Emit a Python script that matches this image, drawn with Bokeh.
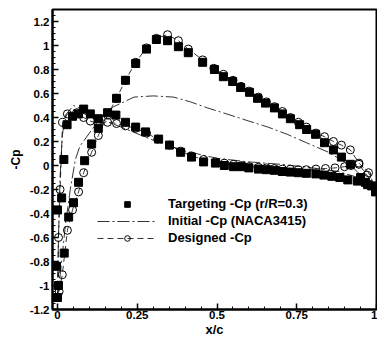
from bokeh.plotting import figure
from bokeh.models import FixedTicker, CustomJSTickFormatter, Legend, LegendItem, Range1d
from bokeh.embed import file_html
from bokeh.resources import INLINE

# Targeting -Cp (r/R=0.3), branch A (suction peak ~1.05)
tA_x = [0.003, 0.021, 0.035, 0.05, 0.066, 0.085, 0.107, 0.128, 0.157, 0.185, 0.213, 0.245,
        0.279, 0.310, 0.345, 0.379, 0.41, 0.455, 0.492, 0.52, 0.549, 0.574, 0.602, 0.627,
        0.652, 0.680, 0.705, 0.730, 0.759, 0.781, 0.809, 0.837, 0.865, 0.890, 0.918, 0.95,
        0.972, 0.997]
tA_y = [-1.0, -0.73, -0.43, -0.31, -0.14, 0.04, 0.18, 0.31, 0.44, 0.56, 0.71, 0.85,
        0.97, 1.05, 1.04, 0.99, 0.94, 0.86, 0.80, 0.74, 0.70, 0.65, 0.61, 0.56,
        0.52, 0.48, 0.43, 0.39, 0.34, 0.30, 0.26, 0.19, 0.13, 0.07, 0.01, -0.10,
        -0.16, -0.22]
# Targeting -Cp, branch B
tB_x = [0.0, -0.003, 0.0, 0.013, 0.02, 0.03, 0.047, 0.066, 0.082, 0.103, 0.128, 0.183,
        0.213, 0.245, 0.276, 0.317, 0.351, 0.386, 0.42, 0.458, 0.495, 0.523, 0.552, 0.577,
        0.60, 0.63, 0.655, 0.68, 0.705, 0.73, 0.755, 0.78, 0.81, 0.835, 0.86, 0.885,
        0.91, 0.94, 0.965, 0.985, 1.0]
tB_y = [-1.1, -0.84, -0.37, -0.27, 0.05, 0.34, 0.41, 0.43, 0.47, 0.43, 0.39, 0.42,
        0.36, 0.32, 0.28, 0.22, 0.17, 0.11, 0.07, 0.03, 0.02, 0.0, -0.01, -0.01,
        -0.02, -0.03, -0.035, -0.04, -0.05, -0.055, -0.06, -0.065, -0.07, -0.08, -0.09, -0.10,
        -0.12, -0.13, -0.14, -0.17, -0.21]

# Initial -Cp (NACA3415)
iA_x = [0.0, 0.005, 0.01, 0.025, 0.04, 0.056, 0.07, 0.1, 0.135, 0.176, 0.24, 0.3, 0.364,
        0.417, 0.47, 0.53, 0.6, 0.66, 0.72, 0.78, 0.85, 0.887, 0.92, 0.965, 1.0]
iA_y = [-1.1, -1.0, -0.87, -0.49, -0.2, 0.05, 0.16, 0.27, 0.40, 0.49, 0.57, 0.58, 0.57,
        0.53, 0.48, 0.43, 0.37, 0.32, 0.26, 0.19, 0.11, 0.05, 0.0, -0.12, -0.21]
iB_x = [0.0, 0.003, 0.008, 0.015, 0.025, 0.05, 0.1, 0.15, 0.2, 0.3, 0.4, 0.5, 0.6, 0.7,
        0.8, 0.88, 0.93, 0.97, 1.0]
iB_y = [-1.1, -0.6, -0.1, 0.25, 0.42, 0.50, 0.44, 0.37, 0.32, 0.21, 0.12, 0.06, 0.03, 0.01,
        -0.02, -0.05, -0.09, -0.14, -0.2]

# Designed -Cp
dA_x = [0.005, 0.015, 0.031, 0.047, 0.066, 0.082, 0.107, 0.128, 0.157, 0.185, 0.213, 0.245,
        0.279, 0.31, 0.345, 0.379, 0.41, 0.455, 0.49, 0.52, 0.55, 0.575, 0.6, 0.63, 0.655,
        0.68, 0.705, 0.73, 0.755, 0.78, 0.81, 0.837, 0.865, 0.89, 0.918, 0.945, 0.975, 1.0]
dA_y = [-1.05, -0.91, -0.54, -0.37, -0.22, -0.06, 0.11, 0.25, 0.42, 0.56, 0.71, 0.86,
        0.98, 1.06, 1.09, 1.04, 0.97, 0.88, 0.81, 0.76, 0.71, 0.66, 0.62, 0.57, 0.53,
        0.49, 0.45, 0.40, 0.36, 0.32, 0.27, 0.24, 0.20, 0.17, 0.13, 0.02, -0.06, -0.2]
dB_x = [0.0, 0.003, 0.008, 0.016, 0.031, 0.06, 0.082, 0.103, 0.128, 0.157, 0.185, 0.213,
        0.245, 0.279, 0.314, 0.351, 0.386, 0.42, 0.458, 0.495, 0.523, 0.552, 0.577, 0.6,
        0.63, 0.655, 0.68, 0.705, 0.73, 0.755, 0.78, 0.81, 0.84, 0.87, 0.9, 0.92, 0.945,
        0.97, 1.0]
dB_y = [-1.1, -0.6, -0.2, 0.36, 0.43, 0.44, 0.40, 0.37, 0.35, 0.36, 0.35, 0.33,
        0.31, 0.27, 0.22, 0.17, 0.12, 0.08, 0.05, 0.03, 0.02, 0.01, 0.0, -0.01,
        -0.015, -0.02, -0.025, -0.03, -0.03, -0.035, -0.035, -0.03, -0.025, -0.02, -0.01, 0.0, 0.01,
        -0.08, -0.2]

x_ticks = [0, 0.25, 0.5, 0.75, 1]
y_ticks = [-1.2, -1, -0.8, -0.6, -0.4, -0.2, 0, 0.2, 0.4, 0.6, 0.8, 1, 1.2]
x_minor = [i * 0.05 for i in range(0, 21)]
y_minor = [-1.2 + i * 0.05 for i in range(0, 51)]

FONT = "Liberation Sans"

p = figure(width=377, height=339, output_backend="svg", toolbar_location=None,
           x_range=Range1d(-0.0157, 1.0), y_range=Range1d(-1.2, 1.3),
           min_border_left=52, min_border_right=1, min_border_top=9, min_border_bottom=26)
p.grid.visible = False
p.outline_line_color = "black"
p.outline_line_width = 2
p.background_fill_color = "white"
p.border_fill_color = "white"

fmt = CustomJSTickFormatter(code="return String(Math.round(tick*100)/100);")
for ax, ticks, minor in ((p.xaxis[0], x_ticks, x_minor), (p.yaxis[0], y_ticks, y_minor)):
    ax.ticker = FixedTicker(ticks=ticks, minor_ticks=minor)
    ax.formatter = fmt
    ax.axis_line_width = 2
    ax.major_tick_in = 6
    ax.major_tick_out = 0
    ax.minor_tick_in = 3
    ax.minor_tick_out = 0
    ax.major_tick_line_width = 1.5
    ax.major_label_text_font = FONT
    ax.major_label_text_font_style = "bold"
    ax.major_label_text_font_size = "11.5px"
    ax.major_label_text_color = "black"
    ax.axis_label_text_font = FONT
    ax.axis_label_text_font_style = "bold"
    ax.axis_label_text_color = "black"

p.xaxis.axis_label = "x/c"
p.xaxis.axis_label_text_font_size = "13px"
p.xaxis.axis_label_standoff = 0
p.xaxis.major_label_standoff = 1
p.yaxis.axis_label = "-Cp"
p.yaxis.axis_label_text_font_size = "12px"
p.yaxis.axis_label_standoff = 4
p.yaxis.major_label_standoff = 3

# Initial lines
iA = p.line(iA_x, iA_y, line_color="black", line_width=0.8, line_dash="12 3 2 3")
iB = p.line(iB_x, iB_y, line_color="black", line_width=0.8, line_dash="12 3 2 3")

# Designed
dA_l = p.line(dA_x, dA_y, line_color="black", line_width=0.8, line_dash="6 4")
dB_l = p.line(dB_x, dB_y, line_color="black", line_width=0.8, line_dash="6 4")
dA_s = p.scatter(dA_x, dA_y, marker="circle", size=8, fill_color="white", fill_alpha=0.0,
                 line_color="black", line_width=1)
dB_s = p.scatter(dB_x, dB_y, marker="circle", size=8, fill_color="white", fill_alpha=0.0,
                 line_color="black", line_width=1)

# Targeting
tA = p.scatter(tA_x, tA_y, marker="square", size=8, fill_color="black", line_color="black")
tB = p.scatter(tB_x, tB_y, marker="square", size=8, fill_color="black", line_color="black")

legend = Legend(items=[
    LegendItem(label="Targeting -Cp (r/R=0.3)", renderers=[tA]),
    LegendItem(label="Initial -Cp (NACA3415)", renderers=[iA]),
    LegendItem(label="Designed -Cp", renderers=[dA_l, dA_s]),
], location=(45, 64))
legend.padding = 0
legend.margin = 0
legend.spacing = 2
legend.border_line_alpha = 0
legend.background_fill_alpha = 0
legend.glyph_width = 60
legend.glyph_height = 14
legend.label_height = 14
legend.label_standoff = 11
legend.label_text_font = FONT
legend.label_text_font_style = "bold"
legend.label_text_font_size = "13px"
legend.label_text_color = "black"
p.add_layout(legend)

open("out.html", "w").write(file_html(p, INLINE))
